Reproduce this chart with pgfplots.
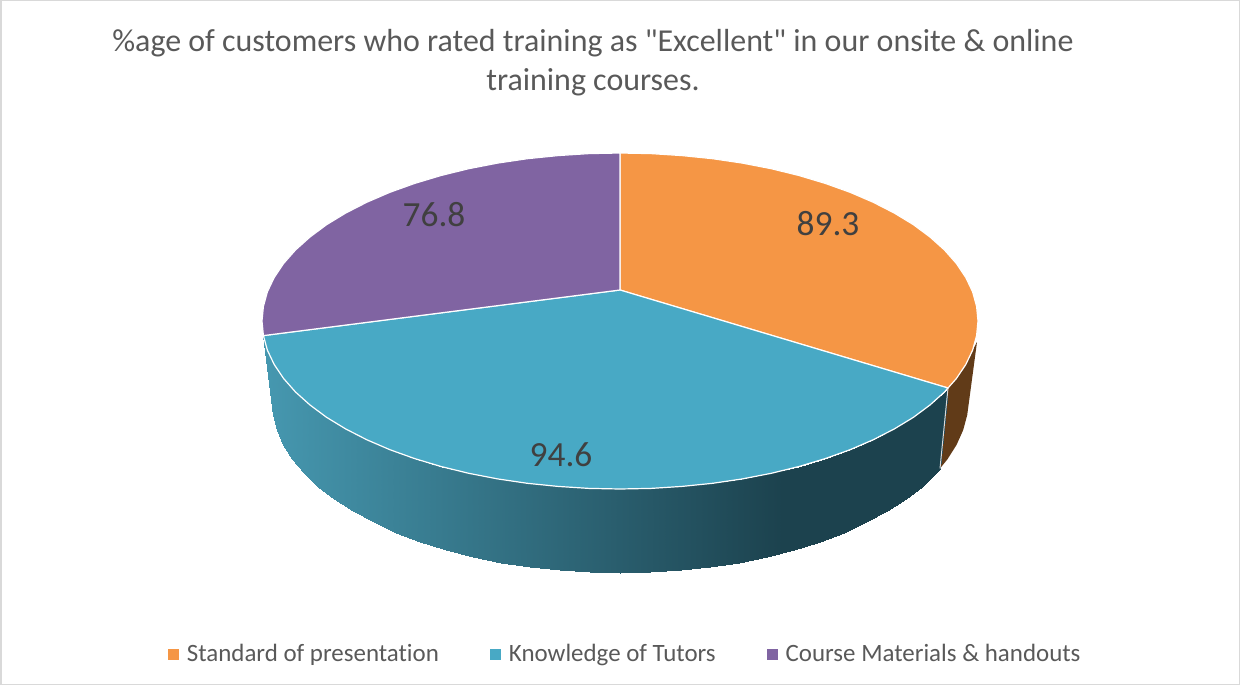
\documentclass[border=0pt]{standalone}
\usepackage{pgfplots}
\pgfplotsset{compat=1.18}
\usepackage{fontspec}
\setmainfont[Ligatures=NoCommon]{Carlito}
\newfontfamily\plainquote{Carlito}
\definecolor{cOrange}{HTML}{F59645}
\definecolor{cTeal}{HTML}{48A9C5}
\definecolor{cPurple}{HTML}{8064A2}
\definecolor{cBrown}{HTML}{613B18}
\definecolor{cTitle}{HTML}{595959}
\definecolor{cLabel}{HTML}{404040}
\definecolor{cEdge}{HTML}{D9D9D9}
\begin{document}
\begin{tikzpicture}
\begin{axis}[
  scale only axis, width=930pt, height=513.75pt,
  xmin=0, xmax=1240, ymin=0, ymax=685, y dir=reverse,
  ticks=none, axis line style={draw=cEdge, line width=2.25pt},
  clip=false,
  colormap={sidegrad}{rgb255(0cm)=(70,152,176); rgb255(5.2cm)=(28,66,78); rgb255(6.85cm)=(28,66,78)},
  point meta min=263, point meta max=948,
  legend cell align=left,
  legend style={at={(axis cs:168,654)}, anchor=west, draw=none, fill=none, inner sep=0pt,
    font=\fontsize{18.7}{21}\selectfont, text=cTitle, legend columns=3,
    /tikz/every even column/.append style={column sep=36.5pt}},
]
% side, orange
\addplot[fill=cBrown, draw=none, forget plot] coordinates {
(948,388)(956.4,378.5)(965.8,364.5)(972.6,350.2)(977,342)(967.2,415.1)(963.2,430)(956.6,444.8)(947.5,459.2)(940,468.5)} -- cycle;
% side, teal
\addplot[surf, shader=interp, mesh/rows=2, mesh/cols=32, mesh/ordering=y varies, point meta=x, forget plot] coordinates {
(263.4,335.6)(272.8,415.1)
(267.4,350.2)(276.8,430)
(274.2,364.5)(283.4,444.8)
(283.6,378.5)(292.5,459.2)
(295.5,392)(304.2,473.1)
(310,405)(318.2,486.5)
(326.7,417.4)(334.5,499.2)
(345.8,429)(353,511.2)
(366.9,439.8)(373.6,522.3)
(389.9,449.7)(396,532.5)
(414.7,458.6)(420.1,541.7)
(441,466.5)(445.7,549.8)
(468.7,473.3)(472.7,556.8)
(497.6,478.9)(500.8,562.6)
(527.3,483.3)(529.8,567.1)
(557.9,486.4)(559.5,570.4)
(588.8,488.4)(589.6,572.3)
(620,489)(620,573)
(651.2,488.4)(650.4,572.3)
(682.1,486.4)(680.5,570.4)
(712.7,483.3)(710.2,567.1)
(742.4,478.9)(739.2,562.6)
(771.3,473.3)(767.3,556.8)
(799,466.5)(794.3,549.8)
(825.3,458.6)(819.9,541.7)
(850.1,449.7)(844,532.5)
(873.1,439.8)(866.4,522.3)
(894.2,429)(887,511.2)
(913.3,417.4)(905.5,499.2)
(930,405)(921.8,486.5)
(944.5,392)(935.8,473.1)
(948,388)(940,468.5)};
\addplot[draw=cEdge, line width=0.75pt, forget plot] coordinates {(948,388)(940,468.5)};
% top, orange 89.3
\addplot[fill=cOrange, draw=white, line width=0.9pt, line join=round, forget plot] coordinates {
(620,290)(620,153)(651.2,153.6)(682.1,155.6)(712.7,158.7)(742.4,163.1)(771.3,168.7)(799,175.5)(825.3,183.4)(850.1,192.3)(873.1,202.2)(894.2,213)(913.3,224.6)(930,237)(944.5,250)(956.4,263.5)(965.8,277.5)(972.6,291.8)(976.6,306.4)(978,321)(976.6,335.6)(972.6,350.2)(965.8,364.5)(956.4,378.5)(948,388)} -- cycle;
% top, teal 94.6
\addplot[fill=cTeal, draw=white, line width=0.9pt, line join=round, forget plot] coordinates {
(620,290)(948,388)(944.5,392)(930,405)(913.3,417.4)(894.2,429)(873.1,439.8)(850.1,449.7)(825.3,458.6)(799,466.5)(771.3,473.3)(742.4,478.9)(712.7,483.3)(682.1,486.4)(651.2,488.4)(620,489)(588.8,488.4)(557.9,486.4)(527.3,483.3)(497.6,478.9)(468.7,473.3)(441,466.5)(414.7,458.6)(389.9,449.7)(366.9,439.8)(345.8,429)(326.7,417.4)(310,405)(295.5,392)(283.6,378.5)(274.2,364.5)(267.4,350.2)(263.4,335.6)} -- cycle;
% top, purple 76.8
\addplot[fill=cPurple, draw=white, line width=0.9pt, line join=round, forget plot] coordinates {
(620,290)(263.4,335.6)(262,321)(263.4,306.4)(267.4,291.8)(274.2,277.5)(283.6,263.5)(295.5,250)(310,237)(326.7,224.6)(345.8,213)(366.9,202.2)(389.9,192.3)(414.7,183.4)(441,175.5)(468.7,168.7)(497.6,163.1)(527.3,158.7)(557.9,155.6)(588.8,153.6)(620,153)} -- cycle;
% legend
\addlegendimage{only marks, mark=square*, mark size=3.75pt, mark options={fill=cOrange, draw=cOrange}}
\addlegendentry{\hspace*{4.5pt}Standard of presentation}
\addlegendimage{only marks, mark=square*, mark size=3.75pt, mark options={fill=cTeal, draw=cTeal}}
\addlegendentry{\hspace*{4.5pt}Knowledge of Tutors}
\addlegendimage{only marks, mark=square*, mark size=3.75pt, mark options={fill=cPurple, draw=cPurple}}
\addlegendentry{\hspace*{4.5pt}Course Materials \& handouts}
% texts
\node[font=\fontsize{26.5}{26.5}\selectfont, text=cLabel] at (axis cs:828,224) {89.3};
\node[font=\fontsize{26.5}{26.5}\selectfont, text=cLabel] at (axis cs:561,455) {94.6};
\node[font=\fontsize{26.5}{26.5}\selectfont, text=cLabel] at (axis cs:434,215) {76.8};
\node[font=\fontsize{23.95}{29.6}\selectfont, text=cTitle, align=center] at (axis cs:593,62.5)
  {\%age of customers who rated training as {\plainquote"}Excellent{\plainquote"} in our onsite \& online\\training courses.};
\end{axis}
\pgfresetboundingbox
\useasboundingbox (0,0) rectangle (930pt,513.75pt);
\end{tikzpicture}
\end{document}
